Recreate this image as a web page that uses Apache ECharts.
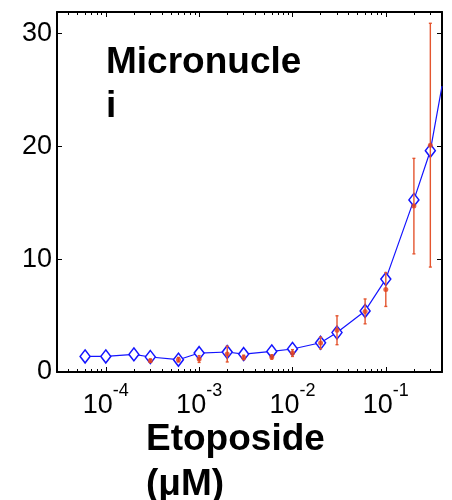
<!DOCTYPE html>
<html>
<head>
<meta charset="utf-8">
<script src="https://cdn.jsdelivr.net/npm/echarts@6/dist/echarts.min.js"></script>
<style>
  html, body { margin: 0; padding: 0; background: #fff; }
  #chart { width: 452px; height: 500px; }
</style>
</head>
<body>
<div id="chart"></div>
<script>
// Model curve: micronucleus frequency vs etoposide concentration (µM)
const modelConc = [6e-5, 1e-4, 2e-4, 3e-4, 6e-4, 1e-3, 2e-3, 3e-3, 6e-3, 1e-2, 2e-2, 3e-2, 6e-2, 0.1, 0.2, 0.3, 0.4];
const modelMN   = [1.38, 1.38, 1.56, 1.33, 1.09, 1.68, 1.77, 1.59, 1.82, 2.04, 2.59, 3.50, 5.41, 8.23, 15.25, 19.61, 25.34];

// Measured values: mean and error
const obsConc = [3e-4, 6e-4, 1e-3, 2e-3, 3e-3, 6e-3, 1e-2, 2e-2, 3e-2, 6e-2, 0.1, 0.2, 0.3];
const obsMean = [1.00, 1.09, 1.15, 1.59, 1.29, 1.33, 1.68, 2.57, 3.70, 5.37, 7.31, 14.7, 20.1];
const obsErr  = [0.15, 0.20, 0.30, 0.70, 0.20, 0.20, 0.30, 0.52, 1.28, 1.10, 1.50, 4.23, 10.8];

// Axis ticks
const xMin = 3e-5, xMax = 0.4;
const decadeTicks = [1e-4, 1e-3, 1e-2, 1e-1];
const yLabels = [0, 10, 20, 30];
const yTicks = [10, 20, 30];
const yMax = 31.9;

// minor ticks at 2..9 x each decade inside the range
const minorTicks = [];
for (let e = -5; e <= -1; e++) {
  for (let k = 2; k <= 9; k++) {
    const v = k * Math.pow(10, e);
    if (v >= xMin && v <= xMax) minorTicks.push(v);
  }
}

const blue = '#1414ff';
const red = '#e2401c';
const barRed = '#e4552f';
const fontFamily = '"Liberation Sans", Arial, sans-serif';

const chart = echarts.init(document.getElementById('chart'), null, { renderer: 'canvas' });

function xAxisDef(pos, major, withLabels, showLine) {
  return {
    type: 'log',
    logBase: 10,
    position: pos,
    min: xMin,
    max: xMax,
    gridIndex: 0,
    axisLine: { show: showLine, onZero: false, lineStyle: { color: '#000', width: 2 } },
    axisTick: {
      show: true,
      inside: true,
      length: major ? 5 : 3,
      customValues: major ? decadeTicks : minorTicks,
      lineStyle: { color: '#000', width: 1 }
    },
    axisLabel: withLabels ? {
      show: true,
      customValues: decadeTicks,
      margin: 20,
      formatter: function (v) {
        const e = Math.round(Math.log10(v));
        return '{b|10}{s|' + e + '}';
      },
      rich: {
        b: { fontSize: 27, fontFamily: fontFamily, color: '#000', lineHeight: 27, verticalAlign: 'bottom' },
        s: { fontSize: 18, fontFamily: fontFamily, color: '#000', lineHeight: 18, padding: [0, 0, 19, 0], verticalAlign: 'bottom' }
      }
    } : { show: false },
    splitLine: { show: false },
    minorTick: { show: false }
  };
}

function yAxisDef(pos, withLabels) {
  return {
    type: 'value',
    position: pos,
    min: 0,
    max: yMax,
    gridIndex: 0,
    axisLine: { show: true, onZero: false, lineStyle: { color: '#000', width: 2 } },
    axisTick: { show: true, inside: true, length: 5, customValues: yTicks, lineStyle: { color: '#000', width: 1 } },
    axisLabel: withLabels ? {
      show: true,
      customValues: yLabels,
      margin: 5,
      fontSize: 27,
      fontFamily: fontFamily,
      color: '#000'
    } : { show: false },
    splitLine: { show: false }
  };
}

const option = {
  backgroundColor: '#fff',
  animation: false,
  grid: { left: 57, right: 10, top: 12, bottom: 128, containLabel: false },
  xAxis: [
    xAxisDef('bottom', true, true, true),
    xAxisDef('bottom', false, false, false),
    xAxisDef('top', true, false, true),
    xAxisDef('top', false, false, false)
  ],
  yAxis: [
    yAxisDef('left', true),
    yAxisDef('right', false)
  ],
  graphic: [
    {
      type: 'text',
      left: 106,
      top: 41,
      style: {
        text: 'Micronucle\ni',
        font: 'bold 37px ' + fontFamily,
        lineHeight: 44,
        fill: '#000'
      }
    },
    {
      type: 'text',
      left: 146,
      top: 417,
      style: {
        text: 'Etoposide\n(μM)',
        font: 'bold 37px ' + fontFamily,
        lineHeight: 45,
        fill: '#000'
      }
    }
  ],
  series: [
    {
      type: 'line',
      xAxisIndex: 0,
      yAxisIndex: 0,
      data: modelConc.map((c, i) => (
        i === modelConc.length - 1
          ? { value: [c, modelMN[i]], symbol: 'none' }
          : [c, modelMN[i]]
      )),
      symbol: 'diamond',
      symbolSize: [10, 13],
      showAllSymbol: true,
      lineStyle: { color: blue, width: 1.2 },
      itemStyle: { color: '#fff', borderColor: blue, borderWidth: 1.5 },
      z: 2
    },
    {
      type: 'custom',
      xAxisIndex: 0,
      yAxisIndex: 0,
      data: obsConc.map((c, i) => [c, obsMean[i] - obsErr[i], obsMean[i] + obsErr[i]]),
      renderItem: function (params, api) {
        const x = api.value(0);
        const lo = api.coord([x, api.value(1)]);
        const hi = api.coord([x, api.value(2)]);
        const cap = 1.5;
        const style = { stroke: barRed, lineWidth: 1.4 };
        return {
          type: 'group',
          children: [
            { type: 'line', shape: { x1: lo[0], y1: lo[1], x2: hi[0], y2: hi[1] }, style: style },
            { type: 'line', shape: { x1: lo[0] - cap, y1: lo[1], x2: lo[0] + cap, y2: lo[1] }, style: style },
            { type: 'line', shape: { x1: hi[0] - cap, y1: hi[1], x2: hi[0] + cap, y2: hi[1] }, style: style }
          ]
        };
      },
      z: 3
    },
    {
      type: 'scatter',
      xAxisIndex: 0,
      yAxisIndex: 0,
      data: obsConc.map((c, i) => [c, obsMean[i]]),
      symbol: 'circle',
      symbolSize: 5,
      itemStyle: { color: red },
      z: 4
    }
  ]
};

chart.setOption(option);
</script>
</body>
</html>
